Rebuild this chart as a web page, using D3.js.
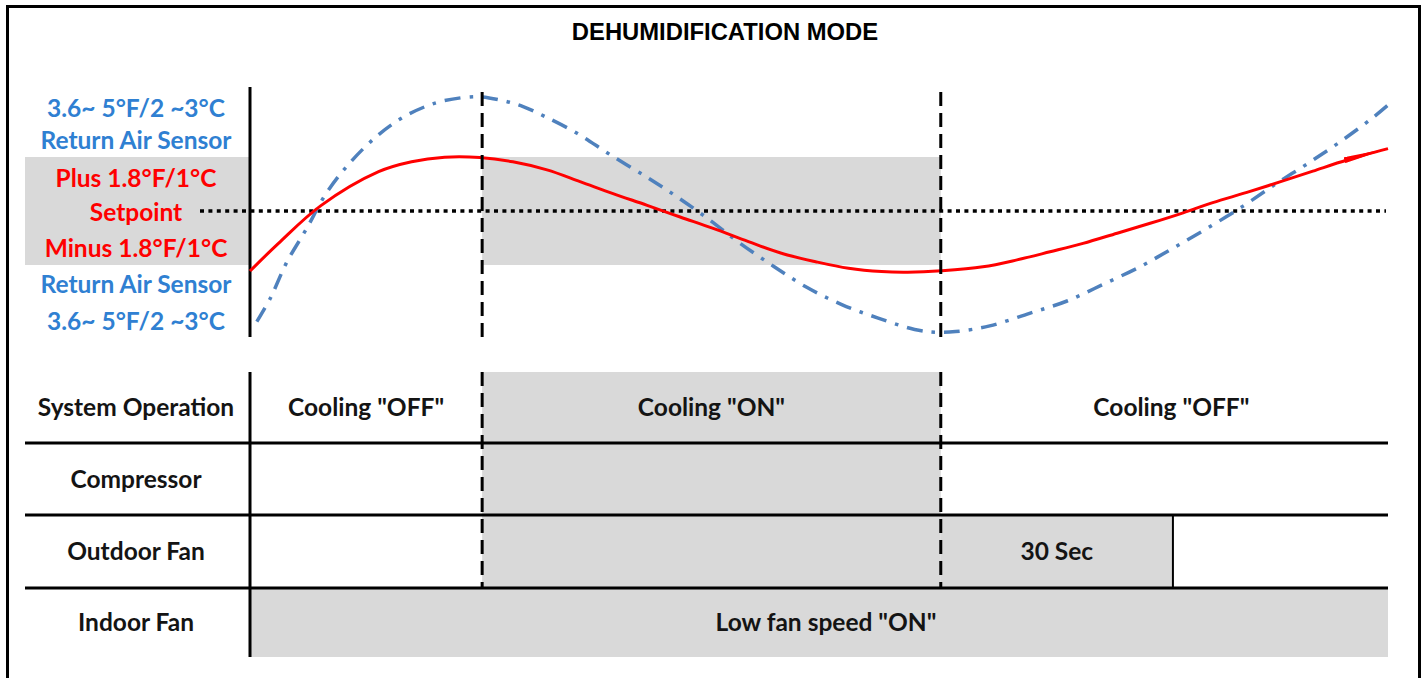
<!DOCTYPE html>
<html>
<head>
<meta charset="utf-8">
<script src="https://cdn.jsdelivr.net/npm/d3@7"></script>
<style>
  body { margin: 0; background: #fff; }
  svg { display: block; }
</style>
</head>
<body>
<svg id="chart" width="1424" height="678"></svg>
<script>
// ---- data ----
var title = "DEHUMIDIFICATION MODE";

// time axis (arbitrary units 0..100), temperature offset from setpoint in °F
var coolingOnAt = 20.4;
var coolingOffAt = 60.7;
var fanDelayEnd = 81.1;
var timeEnd = 100;
var bandHigh = 1.8;
var bandLow = -1.8;
var setpoint = 0;

// coil / supply temperature (red, solid)
var redT = [0, 2.5, 6.2, 11.3, 14.2, 17.1, 20.2, 23.1, 26.1, 29.0, 31.9, 34.9, 37.8, 40.7, 43.8, 46.7, 49.7, 52.6, 55.5, 57.8, 60.8, 64.4, 67.4, 70.3, 73.2, 76.2, 79.1, 82.0, 84.6, 87.6, 90.5, 93.4, 96.4, 100];
var redV = [-2.0, -1.08, 0.17, 1.31, 1.64, 1.79, 1.78, 1.64, 1.37, 0.98, 0.58, 0.19, -0.20, -0.58, -1.02, -1.41, -1.69, -1.91, -2.02, -2.04, -1.99, -1.86, -1.63, -1.36, -1.08, -0.74, -0.41, -0.06, 0.28, 0.62, 0.97, 1.33, 1.70, 2.08];

// return air sensor (blue, dash-dot)
var blueT = [0.6, 1.8, 3.2, 5.0, 6.6, 8.6, 11.1, 13.3, 15.4, 17.1, 20.0, 22.2, 24.0, 25.8, 28.7, 31.6, 34.9, 37.5, 40.4, 42.9, 46.0, 49.0, 52.0, 55.2, 58.4, 60.2, 62.0, 65.0, 68.5, 71.8, 75.0, 78.2, 81.1, 84.1, 87.3, 90.2, 92.9, 95.8, 98.6, 100];
var blueV = [-3.69, -2.90, -1.73, -0.57, 0.53, 1.53, 2.48, 3.09, 3.48, 3.68, 3.81, 3.68, 3.48, 3.17, 2.60, 1.89, 1.12, 0.48, -0.30, -1.03, -1.84, -2.56, -3.12, -3.57, -3.95, -4.04, -4.02, -3.83, -3.41, -3.00, -2.44, -1.86, -1.24, -0.58, 0.17, 0.92, 1.57, 2.31, 3.09, 3.53];

// left side labels (top to bottom)
var sideLabels = ["3.6~ 5°F/2 ~3°C", "Return Air Sensor", "Plus 1.8°F/1°C", "Setpoint", "Minus 1.8°F/1°C", "Return Air Sensor", "3.6~ 5°F/2 ~3°C"];
var sideKinds = ["blue", "blue", "red", "red", "red", "blue", "blue"];

// timing table
var rowNames = ["System Operation", "Compressor", "Outdoor Fan", "Indoor Fan"];
var sysStates = ["Cooling \"OFF\"", "Cooling \"ON\"", "Cooling \"OFF\""];
var outdoorDelayLabel = "30 Sec";
var indoorFanLabel = "Low fan speed \"ON\"";

// ---- layout ----
var svg = d3.select("#chart");
var gray = "#d9d9d9";
var blue = "#4f81bd";
var red = "#ff0000";
var labelBlue = "#2f80d2";
var txt = "#141414";
var fontLbl = "Lato, 'Open Sans', sans-serif";
var fontSize = 24.5;

var x = d3.scaleLinear().domain([0, timeEnd]).range([250, 1388]);
var y = d3.scaleLinear().domain([bandLow, bandHigh]).range([265, 157]);

// outer border
svg.append("rect")
    .attr("x", 7.5).attr("y", 6.5)
    .attr("width", 1412).attr("height", 700)
    .attr("fill", "none")
    .attr("stroke", "#000")
    .attr("stroke-width", 3);

svg.append("text")
    .attr("x", 725).attr("y", 40)
    .attr("text-anchor", "middle")
    .attr("font-family", "'Liberation Sans', Arial, sans-serif")
    .attr("font-weight", "bold")
    .attr("font-size", 23.8)
    .attr("fill", "#000")
    .text(title);

// ---- upper chart ----
var g = svg.append("g");

// gray band under the side labels and during cooling
g.append("rect")
    .attr("x", 25).attr("y", y(bandHigh))
    .attr("width", x(0) - 25).attr("height", y(bandLow) - y(bandHigh))
    .attr("fill", gray);
g.append("rect")
    .attr("x", x(coolingOnAt)).attr("y", y(bandHigh))
    .attr("width", x(coolingOffAt) - x(coolingOnAt)).attr("height", y(bandLow) - y(bandHigh))
    .attr("fill", gray);

// setpoint dotted line
g.append("line")
    .attr("x1", 200).attr("x2", x(timeEnd) - 2)
    .attr("y1", y(setpoint)).attr("y2", y(setpoint))
    .attr("stroke", "#000")
    .attr("stroke-width", 3.5)
    .attr("stroke-dasharray", "4,4.4");

// left axis line
g.append("line")
    .attr("x1", x(0)).attr("x2", x(0))
    .attr("y1", 87).attr("y2", 337)
    .attr("stroke", "#000").attr("stroke-width", 3);

// side labels
var labelY = [108, 140, 178, 212, 248, 284, 321];
g.selectAll("text.side")
    .data(sideLabels)
    .enter().append("text")
    .attr("class", "side")
    .attr("x", 136)
    .attr("y", function (d, i) { return labelY[i]; })
    .attr("dy", "0.36em")
    .attr("text-anchor", "middle")
    .attr("font-family", fontLbl)
    .attr("font-weight", "bold")
    .attr("font-size", fontSize)
    .attr("fill", function (d, i) { return sideKinds[i] == "red" ? red : labelBlue; })
    .text(function (d) { return d; });

// arrow marker at the end of the red line
svg.append("defs").append("marker")
    .attr("id", "wedge")
    .attr("viewBox", "0 -1 15 2")
    .attr("refX", 15).attr("refY", 0)
    .attr("markerWidth", 15).attr("markerHeight", 2)
    .attr("orient", "auto")
    .append("path")
    .attr("d", "M0,-1L15,0L0,1Z")
    .attr("fill", red);

var line = d3.line()
    .x(function (d) { return x(d[0]); })
    .y(function (d) { return y(d[1]); })
    .curve(d3.curveCatmullRom.alpha(0.5));

var blueData = blueT.map(function (t, i) { return [t, blueV[i]]; });
var redData = redT.map(function (t, i) { return [t, redV[i]]; });

g.append("path")
    .attr("d", line(blueData))
    .attr("fill", "none")
    .attr("stroke", blue)
    .attr("stroke-width", 3.5)
    .attr("stroke-dasharray", "16,9,3.5,9");

g.append("path")
    .attr("d", line(redData))
    .attr("fill", "none")
    .attr("stroke", red)
    .attr("stroke-width", 3)
    .attr("marker-end", "url(#wedge)");

// event dashed lines (upper)
[coolingOnAt, coolingOffAt].forEach(function (t) {
    g.append("line")
        .attr("x1", x(t)).attr("x2", x(t))
        .attr("y1", 92).attr("y2", 338)
        .attr("stroke", "#000").attr("stroke-width", 3)
        .attr("stroke-dasharray", "14,7");
});

// ---- timing table ----
var rowTop = 372, rowBounds = [372, 443, 515, 588, 657];
var rowMid = function (i) { return (rowBounds[i] + rowBounds[i + 1]) / 2; };
var tg = svg.append("g");

// shaded "on" periods
tg.append("rect")
    .attr("x", x(coolingOnAt)).attr("y", rowTop)
    .attr("width", x(coolingOffAt) - x(coolingOnAt)).attr("height", rowBounds[3] - rowTop)
    .attr("fill", gray);
tg.append("rect")
    .attr("x", x(coolingOffAt)).attr("y", rowBounds[2])
    .attr("width", x(fanDelayEnd) - x(coolingOffAt)).attr("height", rowBounds[3] - rowBounds[2])
    .attr("fill", gray);
tg.append("rect")
    .attr("x", x(0)).attr("y", rowBounds[3])
    .attr("width", x(timeEnd) - x(0)).attr("height", rowBounds[4] - rowBounds[3])
    .attr("fill", gray);

// grid lines
[1, 2, 3].forEach(function (i) {
    tg.append("line")
        .attr("x1", 25).attr("x2", x(timeEnd))
        .attr("y1", rowBounds[i]).attr("y2", rowBounds[i])
        .attr("stroke", "#000").attr("stroke-width", 3);
});
tg.append("line")
    .attr("x1", x(0)).attr("x2", x(0))
    .attr("y1", rowTop).attr("y2", rowBounds[4])
    .attr("stroke", "#000").attr("stroke-width", 3);
tg.append("line")
    .attr("x1", x(fanDelayEnd)).attr("x2", x(fanDelayEnd))
    .attr("y1", rowBounds[2]).attr("y2", rowBounds[3])
    .attr("stroke", "#000").attr("stroke-width", 2);

[coolingOnAt, coolingOffAt].forEach(function (t) {
    tg.append("line")
        .attr("x1", x(t)).attr("x2", x(t))
        .attr("y1", rowTop).attr("y2", rowBounds[3])
        .attr("stroke", "#000").attr("stroke-width", 3)
        .attr("stroke-dasharray", "14,7");
});

function cellText(cx, cy, s) {
    tg.append("text")
        .attr("x", cx).attr("y", cy)
        .attr("dy", "0.36em")
        .attr("text-anchor", "middle")
        .attr("font-family", fontLbl)
        .attr("font-weight", "bold")
        .attr("font-size", fontSize)
        .attr("fill", txt)
        .text(s);
}

rowNames.forEach(function (s, i) { cellText(136, rowMid(i), s); });

var sysEdges = [0, coolingOnAt, coolingOffAt, timeEnd];
sysStates.forEach(function (s, i) {
    var cx = (x(sysEdges[i]) + x(sysEdges[i + 1])) / 2 + (i == 2 ? 7 : 0);
    cellText(cx, rowMid(0), s);
});
cellText((x(coolingOffAt) + x(fanDelayEnd)) / 2, rowMid(2), outdoorDelayLabel);
cellText((x(0) + x(timeEnd)) / 2 + 7, rowMid(3), indoorFanLabel);
</script>
</body>
</html>
